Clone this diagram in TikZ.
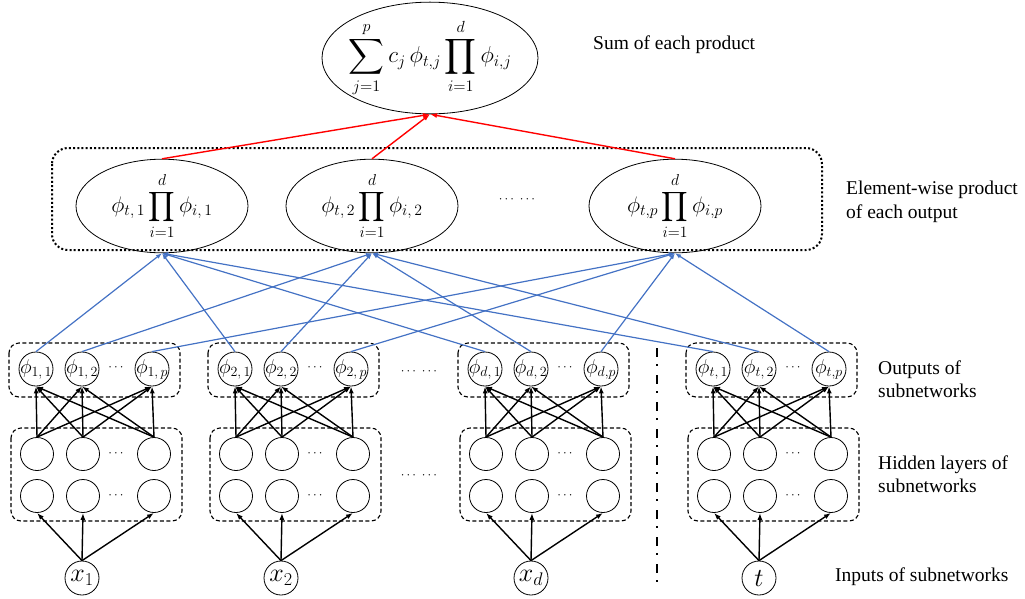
\RequirePackage{fix-cm}
\documentclass[tikz,border=0pt]{standalone}
\usepackage{amsmath}
\usepackage{fontspec}
\setmainfont{Liberation Serif}
\usetikzlibrary{shapes.geometric,arrows.meta}
\definecolor{linkblue}{RGB}{68,114,196}
\tikzset{
  sumnode/.style={draw,ellipse,line width=0.8pt,minimum width=216pt,minimum height=100pt,inner sep=0pt,font=\fontsize{23}{28}\selectfont},
  prodnode/.style={draw,ellipse,line width=0.8pt,minimum width=172pt,minimum height=88pt,inner sep=0pt,font=\fontsize{22.5}{27}\selectfont},
  outcirc/.style={draw,circle,line width=0.8pt,minimum size=34pt,inner sep=0pt,font=\fontsize{20}{22}\selectfont},
  hidcirc/.style={draw,circle,line width=0.8pt,minimum size=33pt,inner sep=0pt},
  incirc/.style={draw,circle,line width=0.8pt,minimum size=34pt,inner sep=0pt,font=\fontsize{26}{30}\selectfont},
  subbox/.style={draw,line width=1.1pt,rounded corners=10pt,dash pattern=on 4pt off 2.5pt},
  prodbox/.style={draw,line width=2pt,rounded corners=16pt,dash pattern=on 2pt off 2.2pt},
  sidetext/.style={anchor=west,align=left,inner sep=0pt,font=\fontsize{19.5}{23.5}\selectfont},
  smalldots/.style={inner sep=0pt,font=\fontsize{13}{15}\selectfont},
  blk/.style={-{Latex[length=7pt,width=5pt]},line width=1.4pt},
  blu/.style={-{Latex[length=6pt,width=4.5pt]},line width=1.2pt,linkblue},
  redlink/.style={-{Latex[length=7pt,width=5pt]},line width=1.4pt,red}
}
\begin{document}
\begin{tikzpicture}[x=1pt,y=-1pt]
\useasboundingbox (0,0) rectangle (1025,598);
% sum and products
\node[sumnode] (top) at (430,58) {\makebox[0pt]{$\displaystyle\sum_{j=1}^{p} c_j\,\phi_{t,j}\prod_{i=1}^{d}\phi_{i,j}$}};
\node[prodnode] (e1) at (162,206) {\makebox[0pt]{$\phi_{t,\,1}\displaystyle\prod_{i=1}^{d}\phi_{i,\,1}$}};
\node[prodnode] (e2) at (372,206) {\makebox[0pt]{$\phi_{t,\,2}\displaystyle\prod_{i=1}^{d}\phi_{i,\,2}$}};
\node[prodnode] (ep) at (675,206) {\makebox[0pt]{$\phi_{t,p}\displaystyle\prod_{i=1}^{d}\phi_{i,p}$}};
\node[smalldots] (edots) at (518,200) {$\cdots\;\cdots$};
\draw[prodbox] (52,148) rectangle (822,250);
\draw[redlink] (e1.north) -- (top.south);
\draw[redlink] (e2.north) -- (top.south);
\draw[redlink] (ep.north) -- (top.south);
% subnetworks
\foreach \s/\x/\inp/\sep in {1/0/x_1/{\,}, 2/199/x_2/{\,}, d/449/x_d/{}, t/677/t/{}}{
  \node[outcirc] (o\s-1) at (\x+36,369) {\makebox[0pt]{$\phi_{\s,\,1}$}};
  \node[outcirc] (o\s-2) at (\x+82,369) {\makebox[0pt]{$\phi_{\s,\,2}$}};
  \node[outcirc] (o\s-p) at (\x+152,369) {\makebox[0pt]{$\phi_{\s,\sep p}$}};
  \node[smalldots] (od\s) at (\x+117,368) {$\cdots$};
  \node[hidcirc] (u\s-1) at (\x+37,454) {};
  \node[hidcirc] (u\s-2) at (\x+83,454) {};
  \node[hidcirc] (u\s-p) at (\x+154,454) {};
  \node[smalldots] (ud\s) at (\x+117,454) {$\cdots$};
  \node[hidcirc] (l\s-1) at (\x+37,496) {};
  \node[hidcirc] (l\s-2) at (\x+83,496) {};
  \node[hidcirc] (l\s-p) at (\x+154,496) {};
  \node[smalldots] (ld\s) at (\x+117,496) {$\cdots$};
  \node[incirc] (in\s) at (\x+82,578) {$\inp$};
  \draw[subbox] (\x+9,343) rectangle (\x+180,397);
  \draw[subbox] (\x+11,428) rectangle (\x+182,521);
  \foreach \j in {1,2,p}{
    \draw[blk] (in\s.north) -- (l\s-\j.south);
    \foreach \k in {1,2,p}
      \draw[blk] (u\s-\j.north) -- (o\s-\k.south);
  }
  \draw[blu] (o\s-1.north) -- (e1.south);
  \draw[blu] (o\s-2.north) -- (e2.south);
  \draw[blu] (o\s-p.north) -- (ep.south);
}
\node[smalldots] (mdots1) at (420,372) {$\cdots\;\cdots$};
\node[smalldots] (mdots2) at (420,476) {$\cdots\;\cdots$};
\draw[line width=1.8pt,dash pattern=on 9pt off 7pt on 2pt off 9pt] (657,348) -- (657,590);
% side texts
\node[sidetext] (lsum) at (593,45) {Sum of each product};
\node[sidetext] (lprod) at (846,202) {Element-wise product\\of each output};
\node[sidetext] (lout) at (878,379) {Outputs of\\subnetworks};
\node[sidetext] (lhid) at (878,474) {Hidden layers of\\subnetworks};
\node[sidetext] (lin) at (835,577) {Inputs of subnetworks};
\end{tikzpicture}
\end{document}
